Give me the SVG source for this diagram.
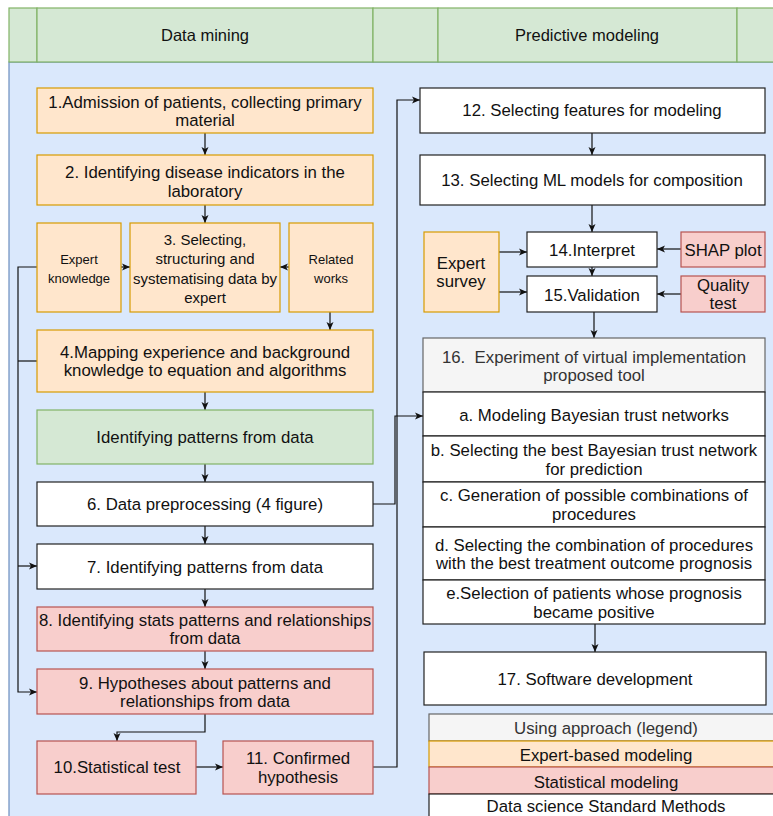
<svg xmlns="http://www.w3.org/2000/svg" width="773" height="816" viewBox="0 0 773 816">
<defs>
<style>
text{font-family:"Liberation Sans",Arial,sans-serif;font-size:16.8px;fill:#111;text-anchor:middle}
.hd{font-size:16.5px}
.sm{font-size:13px}
.md{font-size:15px}
.gt{fill:#333}
.or{fill:#ffe6cc;stroke:#d79b00;stroke-width:1.2}
.rd{fill:#f8cecc;stroke:#b85450;stroke-width:1.2}
.wh{fill:#fff;stroke:#222;stroke-width:1.2}
.gr{fill:#d5e8d4;stroke:#82b366;stroke-width:1.2}
.lg{fill:#f5f5f5;stroke:#666;stroke-width:1.2}
.c{fill:none;stroke:#111;stroke-width:1.2;marker-end:url(#ah)}
.n{fill:none;stroke:#111;stroke-width:1.2}
</style>
<marker id="ah" markerUnits="userSpaceOnUse" markerWidth="10" markerHeight="10" viewBox="0 0 10 10" refX="9" refY="5" orient="auto">
<path d="M1,1.5 L9,5 L1,8.5 L3,5 z" fill="#111"/>
</marker>
</defs>

<g id="background">
<rect x="9" y="62" width="780" height="770" fill="#dae8fc" stroke="#6c8ebf" stroke-width="1.2"/>
</g>
<g id="header">
<rect x="9" y="8" width="28" height="54" class="gr"/>
<rect x="37" y="8" width="336" height="54" class="gr"/>
<rect x="373" y="8" width="65" height="54" class="gr"/>
<rect x="438" y="8" width="299" height="54" class="gr"/>
<rect x="737" y="8" width="50" height="54" class="gr"/>
<text class="hd" x="205" y="41">Data mining</text>
<text class="hd" x="587" y="41">Predictive modeling</text>
</g>

<g id="connectors">
<path class="c" d="M205,133 V155"/>
<path class="c" d="M205,205 V223"/>
<path class="c" d="M121,267 H130"/>
<path class="c" d="M289,267 H280"/>
<path class="c" d="M330,312 V330"/>
<path class="c" d="M205,392 V410"/>
<path class="c" d="M205,464 V482"/>
<path class="c" d="M205,526 V544"/>
<path class="c" d="M205,589 V607"/>
<path class="c" d="M205,651 V669"/>
<path class="c" d="M37,267 H18 V692 H37"/>
<path class="n" d="M37,361 H18"/>
<path class="c" d="M18,566 H37"/>
<path class="c" d="M205,714 V732 H117 V741"/>
<path class="c" d="M196,767 H223"/>
<path class="c" d="M373,767 H397 V100 H420"/>
<path class="c" d="M373,504 H395 V416 H423"/>
<path class="c" d="M592,133 V155"/>
<path class="c" d="M592,205 V232"/>
<path class="c" d="M499,252 H527"/>
<path class="c" d="M499,292 H527"/>
<path class="c" d="M681,249 H657"/>
<path class="c" d="M681,294 H657"/>
<path class="c" d="M592,267 V276"/>
<path class="c" d="M594,312 V338"/>
<path class="c" d="M595,624 V652"/>
</g>

<g id="n1"><rect x="37" y="88" width="336" height="45" class="or"/>
<text x="205" y="108">1.Admission of patients, collecting primary</text><text x="205" y="126">material</text></g>
<g id="n2"><rect x="37" y="155" width="336" height="50" class="or"/>
<text x="205" y="178">2. Identifying disease indicators in the</text><text x="205" y="197">laboratory</text></g>
<g id="expert-knowledge"><rect x="37" y="223" width="84" height="89" class="or"/>
<text class="sm" x="79" y="263.5">Expert</text><text class="sm" x="79" y="282.5">knowledge</text></g>
<g id="n3"><rect x="130" y="223" width="150" height="89" class="or"/>
<text class="md" x="205" y="244.5">3. Selecting,</text><text class="md" x="205" y="264">structuring and</text><text class="md" x="205" y="283.5">systematising data by</text><text class="md" x="205" y="302.5">expert</text></g>
<g id="related-works"><rect x="289" y="223" width="84" height="89" class="or"/>
<text class="sm" x="331" y="263.5">Related</text><text class="sm" x="331" y="282.5">works</text></g>
<g id="n4"><rect x="37" y="330" width="336" height="62" class="or"/>
<text x="205" y="358">4.Mapping experience and background</text><text x="205" y="376">knowledge to equation and algorithms</text></g>
<g id="n5"><rect x="37" y="410" width="336" height="54" class="gr"/>
<text x="205" y="443">Identifying patterns from data</text></g>
<g id="n6"><rect x="37" y="482" width="336" height="44" class="wh"/>
<text x="205" y="510">6. Data preprocessing (4 figure)</text></g>
<g id="n7"><rect x="37" y="544" width="336" height="45" class="wh"/>
<text x="205" y="573">7. Identifying patterns from data</text></g>
<g id="n8"><rect x="37" y="607" width="336" height="44" class="rd"/>
<text x="205" y="626">8. Identifying stats patterns and relationships</text><text x="205" y="644">from data</text></g>
<g id="n9"><rect x="37" y="669" width="336" height="45" class="rd"/>
<text x="205" y="689">9. Hypotheses about patterns and</text><text x="205" y="707">relationships from data</text></g>
<g id="n10"><rect x="37" y="741" width="159" height="53" class="rd"/>
<text x="117" y="773">10.Statistical test</text></g>
<g id="n11"><rect x="223" y="741" width="150" height="53" class="rd"/>
<text x="298" y="764">11. Confirmed</text><text x="298" y="783">hypothesis</text></g>

<g id="n12"><rect x="420" y="88" width="345" height="45" class="wh"/>
<text x="592" y="116">12. Selecting features for modeling</text></g>
<g id="n13"><rect x="420" y="155" width="345" height="50" class="wh"/>
<text x="592" y="186">13. Selecting ML models for composition</text></g>
<g id="expert-survey"><rect x="424" y="232" width="75" height="80" class="or"/>
<text x="461" y="269">Expert</text><text x="461" y="287">survey</text></g>
<g id="n14"><rect x="527" y="232" width="130" height="35" class="wh"/>
<text x="592" y="256">14.Interpret</text></g>
<g id="n15"><rect x="527" y="276" width="130" height="36" class="wh"/>
<text x="592" y="301">15.Validation</text></g>
<g id="shap"><rect x="681" y="232" width="84" height="35" class="rd"/>
<text x="723" y="256">SHAP plot</text></g>
<g id="quality"><rect x="681" y="276" width="84" height="36" class="rd"/>
<text x="723" y="291">Quality</text><text x="723" y="309">test</text></g>
<g id="n16">
<rect x="423" y="338" width="342" height="54" class="lg"/>
<text class="gt" x="594" y="363">16.&#160; Experiment of virtual implementation</text><text class="gt" x="594" y="381">proposed tool</text>
<rect x="423" y="392" width="342" height="44" class="wh"/>
<text x="594" y="421">a. Modeling Bayesian trust networks</text>
<rect x="423" y="436" width="342" height="46" class="wh"/>
<text x="594" y="456">b. Selecting the best Bayesian trust network</text><text x="594" y="475">for prediction</text>
<rect x="423" y="482" width="342" height="45" class="wh"/>
<text x="594" y="501">c. Generation of possible combinations of</text><text x="594" y="520">procedures</text>
<rect x="423" y="527" width="342" height="53" class="wh"/>
<text x="594" y="551">d. Selecting the combination of procedures</text><text x="594" y="569">with the best treatment outcome prognosis</text>
<rect x="423" y="580" width="342" height="44" class="wh"/>
<text x="594" y="599">e.Selection of patients whose prognosis</text><text x="594" y="618">became positive</text>
</g>
<g id="n17"><rect x="424" y="652" width="342" height="53" class="wh"/>
<text x="595" y="685">17. Software development</text></g>
<g id="legend">
<rect x="429" y="714" width="356" height="27" class="lg"/>
<text class="gt" x="606" y="734">Using approach (legend)</text>
<rect x="429" y="741" width="356" height="26" class="or"/>
<text x="606" y="761">Expert-based modeling</text>
<rect x="429" y="767" width="356" height="27" class="rd"/>
<text x="606" y="788">Statistical modeling</text>
<rect x="429" y="794" width="356" height="30" class="wh"/>
<text x="606" y="812">Data science Standard Methods</text>
</g>
</svg>
